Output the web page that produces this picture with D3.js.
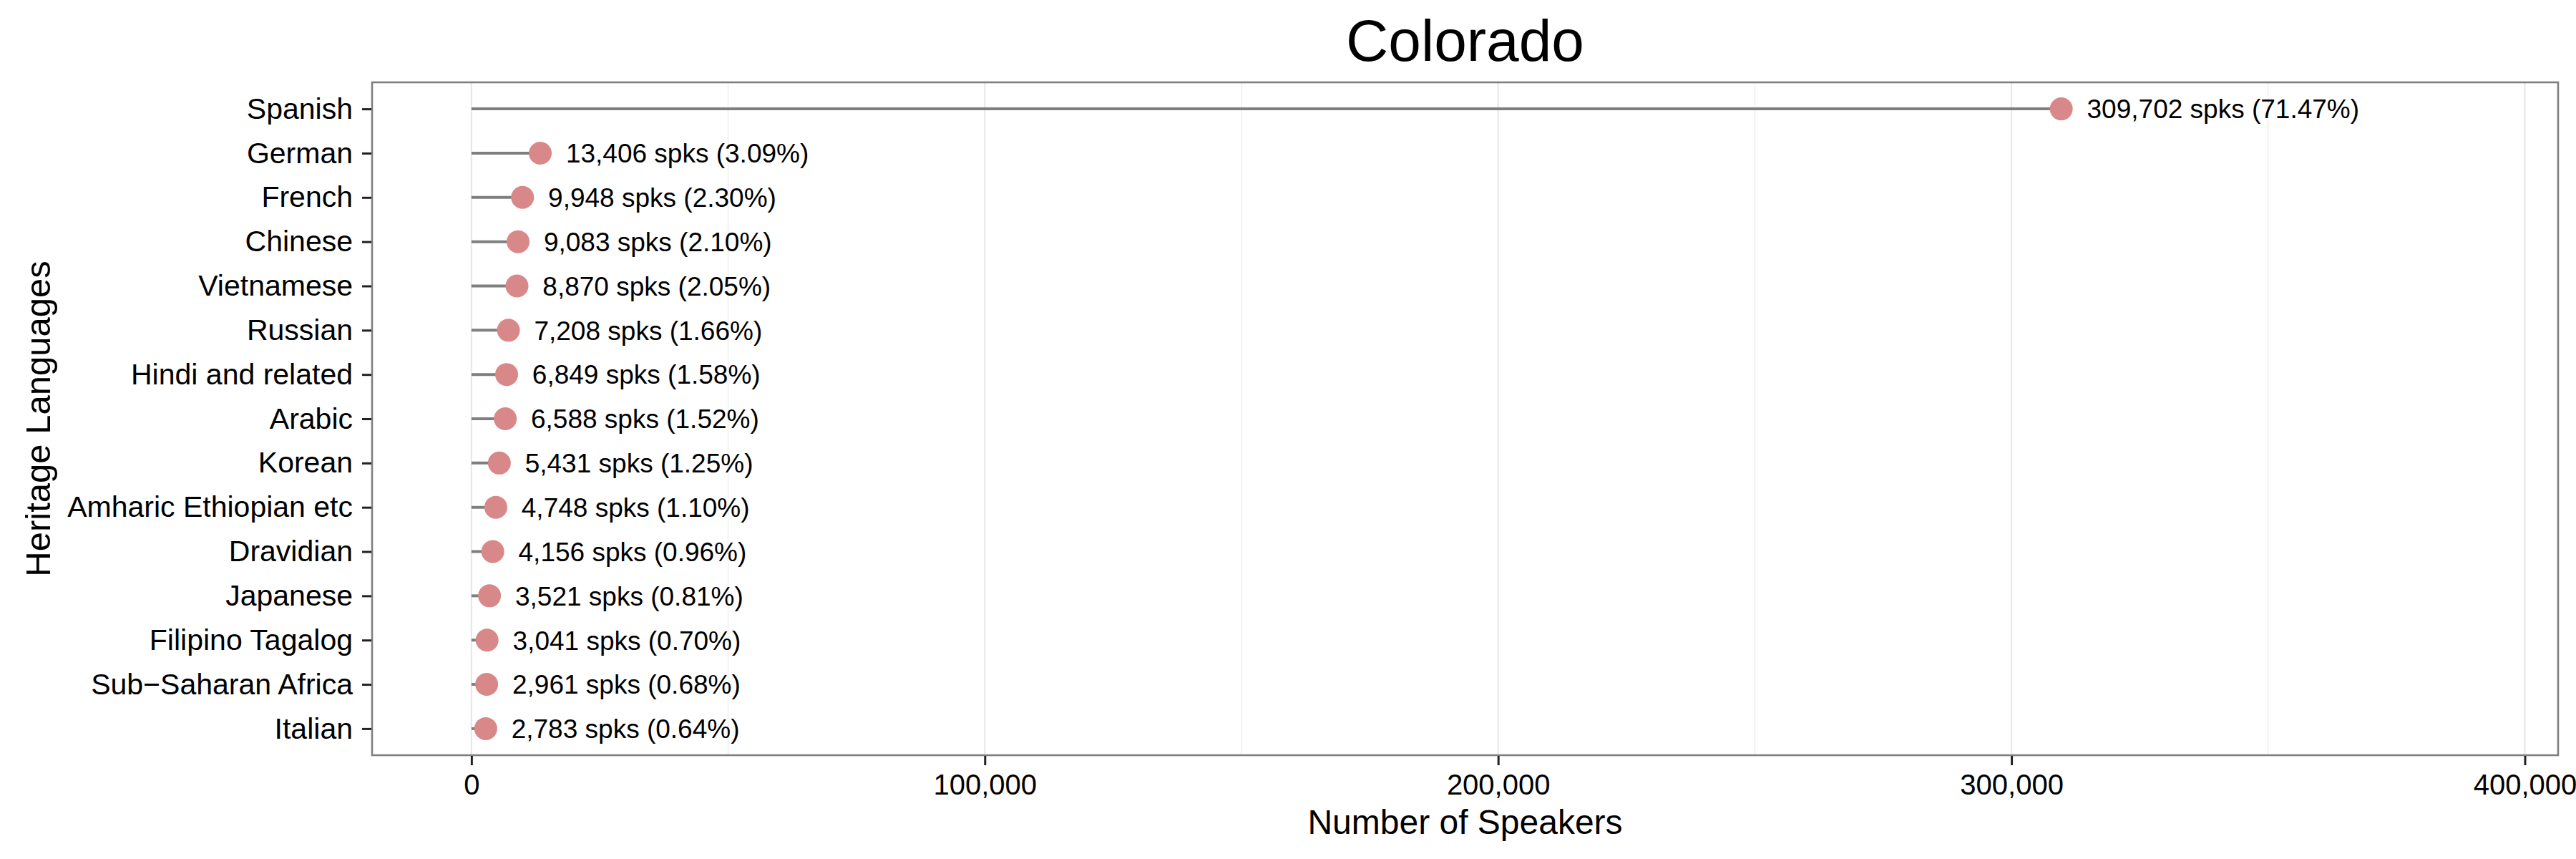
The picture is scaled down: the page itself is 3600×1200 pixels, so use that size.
<!DOCTYPE html>
<html>
<head>
<meta charset="utf-8">
<script src="https://cdn.jsdelivr.net/npm/d3@7"></script>
<style>
  html, body { margin: 0; padding: 0; background: #ffffff; }
  svg { display: block; }
  text { font-family: "Liberation Sans", Arial, Helvetica, sans-serif; }
</style>
</head>
<body>
<script>
// ---- Data ----
const languages = [
  "Spanish", "German", "French", "Chinese", "Vietnamese", "Russian",
  "Hindi and related", "Arabic", "Korean", "Amharic Ethiopian etc",
  "Dravidian", "Japanese", "Filipino Tagalog", "Sub\u2212Saharan Africa", "Italian"
];
const speakers = [
  309702, 13406, 9948, 9083, 8870, 7208,
  6849, 6588, 5431, 4748,
  4156, 3521, 3041, 2961, 2783
];
const percents = [
  71.47, 3.09, 2.30, 2.10, 2.05, 1.66,
  1.58, 1.52, 1.25, 1.10,
  0.96, 0.81, 0.70, 0.68, 0.64
];
const majorTicks = [0, 100000, 200000, 300000, 400000];
const minorTicks = [50000, 150000, 250000, 350000];
const chartTitle = "Colorado";
const xTitle = "Number of Speakers";
const yTitle = "Heritage Languages";
const labelNudge = 5000; // data units

// ---- Layout ----
const W = 3600, H = 1200;
const panel = { left: 520, right: 3575, top: 115, bottom: 1055 };

const svg = d3.select("body").append("svg")
  .attr("width", W).attr("height", H);

svg.append("rect").attr("width", W).attr("height", H).attr("fill", "#ffffff");

// x scale: limits 0 .. max*1.25 with 5% expansion (ggplot style)
const lim = [0, d3.max(speakers) * 1.25];
const ext = (lim[1] - lim[0]) * 0.05;
const x = d3.scaleLinear()
  .domain([lim[0] - ext, lim[1] + ext])
  .range([panel.left, panel.right]);

const y = d3.scalePoint()
  .domain(languages)
  .range([panel.top, panel.bottom])
  .padding(0.6);

const data = languages.map((l, i) => ({ lang: l, value: speakers[i], pct: percents[i] }));

// ---- Panel background and grid ----
const g = svg.append("g");

g.append("rect")
  .attr("x", panel.left).attr("y", panel.top)
  .attr("width", panel.right - panel.left)
  .attr("height", panel.bottom - panel.top)
  .attr("fill", "#ffffff");

g.selectAll("line.minor").data(minorTicks).enter().append("line")
  .attr("class", "minor")
  .attr("x1", d => x(d)).attr("x2", d => x(d))
  .attr("y1", panel.top).attr("y2", panel.bottom)
  .attr("stroke", "#f3f3f3").attr("stroke-width", 2);

g.selectAll("line.major").data(majorTicks).enter().append("line")
  .attr("class", "major")
  .attr("x1", d => x(d)).attr("x2", d => x(d))
  .attr("y1", panel.top).attr("y2", panel.bottom)
  .attr("stroke", "#e8e8e8").attr("stroke-width", 2.2);

// ---- Segments ----
g.selectAll("line.seg").data(data).enter().append("line")
  .attr("class", "seg")
  .attr("x1", x(0)).attr("x2", d => x(d.value))
  .attr("y1", d => y(d.lang)).attr("y2", d => y(d.lang))
  .attr("stroke", "#7f7f7f").attr("stroke-width", 4);

// ---- Points ----
g.selectAll("circle.pt").data(data).enter().append("circle")
  .attr("class", "pt")
  .attr("cx", d => x(d.value)).attr("cy", d => y(d.lang))
  .attr("r", 16)
  .attr("fill", "#d98889");

// ---- Labels ----
const fmt = d3.format(",");
g.selectAll("text.lab").data(data).enter().append("text")
  .attr("class", "lab")
  .attr("x", d => x(d.value + labelNudge))
  .attr("y", d => y(d.lang))
  .attr("dy", "0.36em")
  .attr("font-size", 37)
  .attr("fill", "#000")
  .text(d => `${fmt(d.value)} spks (${d.pct.toFixed(2)}%)`);

// ---- Panel border ----
g.append("rect")
  .attr("x", panel.left).attr("y", panel.top)
  .attr("width", panel.right - panel.left)
  .attr("height", panel.bottom - panel.top)
  .attr("fill", "none")
  .attr("stroke", "#7f7f7f").attr("stroke-width", 2.6);

// ---- Axes ----
const xAxis = d3.axisBottom(x)
  .tickValues(majorTicks)
  .tickFormat(d3.format(","))
  .tickSize(13)
  .tickPadding(13);

const xg = svg.append("g")
  .attr("transform", `translate(0,${panel.bottom + 1})`)
  .call(xAxis);
xg.select(".domain").remove();
xg.selectAll(".tick line").attr("stroke", "#222").attr("stroke-width", 3);
xg.selectAll(".tick text")
  .attr("font-size", 40)
  .attr("fill", "#000")
  .attr("font-family", "'Liberation Sans', Arial, Helvetica, sans-serif");

const yAxis = d3.axisLeft(y)
  .tickSize(13)
  .tickPadding(13);

const yg = svg.append("g")
  .attr("transform", `translate(${panel.left - 1},0)`)
  .call(yAxis);
yg.select(".domain").remove();
yg.selectAll(".tick line").attr("stroke", "#222").attr("stroke-width", 3);
yg.selectAll(".tick text")
  .attr("font-size", 41)
  .attr("fill", "#000")
  .attr("font-family", "'Liberation Sans', Arial, Helvetica, sans-serif");

// ---- Titles ----
svg.append("text")
  .attr("x", (panel.left + panel.right) / 2)
  .attr("y", 85)
  .attr("text-anchor", "middle")
  .attr("font-size", 82)
  .attr("fill", "#000")
  .text(chartTitle);

svg.append("text")
  .attr("x", (panel.left + panel.right) / 2)
  .attr("y", 1165)
  .attr("text-anchor", "middle")
  .attr("font-size", 48)
  .attr("fill", "#000")
  .text(xTitle);

svg.append("text")
  .attr("transform", `translate(70,${(panel.top + panel.bottom) / 2}) rotate(-90)`)
  .attr("text-anchor", "middle")
  .attr("font-size", 49)
  .attr("fill", "#000")
  .text(yTitle);
</script>
</body>
</html>
